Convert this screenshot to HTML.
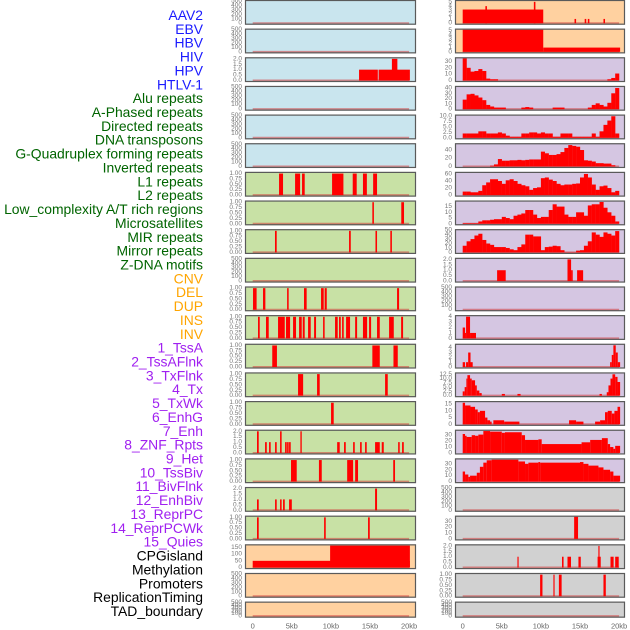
<!DOCTYPE html>
<html><head><meta charset="utf-8"><style>
html,body{margin:0;padding:0;background:#fff;}
svg{display:block;font-family:"Liberation Sans",sans-serif;}
</style></head><body>
<svg id="chart" width="630" height="630" viewBox="0 0 630 630" xmlns="http://www.w3.org/2000/svg">
<g id="labels"></g>
<g id="panels"></g>
<g id="xaxis"></g>
</svg>
<script>
const trackLabels = ["AAV2","EBV","HBV","HIV","HPV","HTLV-1","Alu repeats","A-Phased repeats","Directed repeats","DNA transposons","G-Quadruplex forming repeats","Inverted repeats","L1 repeats","L2 repeats","Low_complexity A/T rich regions","Microsatellites","MIR repeats","Mirror repeats","Z-DNA motifs","CNV","DEL","DUP","INS","INV","1_TssA","2_TssAFlnk","3_TxFlnk","4_Tx","5_TxWk","6_EnhG","7_Enh","8_ZNF_Rpts","9_Het","10_TssBiv","11_BivFlnk","12_EnhBiv","13_ReprPC","14_ReprPCWk","15_Quies","CPGisland","Methylation","Promoters","ReplicationTiming","TAD_boundary"];
const labelColors = ["#1a1aff","#1a1aff","#1a1aff","#1a1aff","#1a1aff","#1a1aff","#006400","#006400","#006400","#006400","#006400","#006400","#006400","#006400","#006400","#006400","#006400","#006400","#006400","#ffa500","#ffa500","#ffa500","#ffa500","#ffa500","#a020f0","#a020f0","#a020f0","#a020f0","#a020f0","#a020f0","#a020f0","#a020f0","#a020f0","#a020f0","#a020f0","#a020f0","#a020f0","#a020f0","#a020f0","#000","#000","#000","#000","#000"];
const xTickValues = [0,5,10,15,20];
const xTickLabels = ["0","5kb","10kb","15kb","20kb"];

const leftHpvBars = [[13.6,16.0,1],[16.1,20.1,1],[17.8,18.5,2]];
const leftL1Bars = [[3.37,3.88,1],[5.42,6.06,1],[6.31,6.65,1],[10.15,11.6,1],[12.79,13.3,1],[14.1,14.6,1],[15.4,15.9,1]];
const leftL2Bars = [[15.3,15.5,1],[19.0,19.35,1]];
const leftLowCxBars = [[2.85,3.07,1],[12.32,12.54,1],[15.7,15.9,1],[17.6,17.8,1]];
const leftMirBars = [[0.04,0.5,1],[1.32,1.62,1],[4.4,4.6,1],[6.56,6.9,1],[8.74,9.08,1],[9.2,9.47,1],[18.46,18.72,1]];
const leftMirrorBars = [[0.68,0.9,1],[1.7,2.05,1],[3.24,4.1,1],[4.26,4.78,1],[5.16,5.54,1],[5.93,6.27,1],[6.4,6.65,1],[7.08,7.42,1],[7.85,8.1,1],[9.0,9.2,1],[10.53,10.87,1],[11.04,11.26,1],[11.43,11.64,1],[11.94,12.45,1],[13.1,13.35,1],[14.1,14.63,1],[14.88,15.14,1],[15.9,16.25,1],[17.44,18.04,1],[18.98,19.23,1]];
const leftZdnaBars = [[2.5,3.1,1],[15.3,16.25,1],[18.0,18.55,1]];
const leftCnvBars = [[5.8,6.45,1],[8.23,8.57,1],[16.93,17.27,1]];
const leftDelBars = [[10.02,10.36,1]];
const leftDupBars = [[0.55,0.77,2],[1.58,1.8,1],[2.09,2.3,1],[2.86,3.07,1],[3.5,3.7,2],[4.14,4.35,1],[4.4,4.6,1],[4.65,4.86,1],[6.1,6.27,2],[10.8,11.13,1],[11.68,11.9,1],[12.84,13.05,1],[13.73,13.94,1],[14.37,14.58,1],[15.65,16.25,1],[16.5,16.76,1],[18.6,18.8,1],[19.1,19.32,1]];
const leftInsBars = [[4.9,5.63,1],[8.47,8.83,1],[12.08,12.84,1],[13.1,13.47,1],[17.97,18.2,1]];
const leftInvBars = [[0.55,0.77,1],[2.86,3.07,1],[3.5,3.7,1],[3.88,4.1,1],[4.65,5.0,1],[15.65,15.9,2]];
const leftTssaBars = [[0.55,0.77,1],[9.13,9.34,1],[14.75,14.97,1]];
const leftCpgBars = [[0,20.1,50],[9.9,20.1,163]];

const rightHpvBins = [35,20,14,15,18,15,3,2,2,0,0,0,0,0,0,0,0,0,0,0,0,0,0,0,0,0,0,0,0,0,0,0,0,0,0,0,0,2,4,11];
const rightAluBins = [18,28,29,26,22,17,8,5,3,3,3,0,0,0,0,3,4,3,0,0,0,0,0,3,3,3,0,0,0,0,0,0,3,8,11,8,5,12,30,40];
const rightAphasedBins = [2,2,2,2,3,3,2,2,2,2.5,2,1,0.5,0.5,0.5,2,2,2.5,2.5,2,2.5,2,2,0.5,0.5,2,2,2,0.5,0.5,0.5,0.5,0.5,2,0.5,3,6,8,10,2];
const rightGquadBins = [0,0,0,0,0,0,0,2,5,18,14,14,15,15,16,15,16,17,17,17,36,32,28,28,30,35,45,52,50,48,40,15,14,12,8,8,7,7,3,0];
const rightInvertedBins = [10,10,8,8,12,28,36,45,45,40,32,42,45,40,32,28,25,15,20,22,48,50,44,40,32,28,30,30,32,33,50,60,50,30,15,25,27,20,8,12];
const rightL1Bins = [0.5,0.5,0.5,0.5,2,3,3,3.5,4,4,6,5,4,7,8,9,12,12,8,5,6,6,12,17,15,15,8,6,6,10,10,7,16,17,17,19,14,10,7,2];
const rightLowCxBins = [15,25,30,38,42,28,20,17,12,12,12,10,7,5,12,18,40,40,36,36,5,12,13,15,14,5,0.5,0.5,0.5,4,5,15,25,45,40,35,45,42,38,48];
const rightAav2Bars = [[0,10.3,3.2],[2.9,3.1,4],[9.1,9.3,5],[14.3,14.5,1],[15.6,15.8,1],[16.0,16.2,1],[18.0,18.2,1]];
const rightEbvBars = [[0,10.3,5.2],[10.3,20.13,1]];
const rightZdnaBars = [[4.4,5.5,1],[13.4,13.86,2],[13.86,14.07,1],[14.63,15.4,1]];
const rightDupBars = [[0,0.3,2],[0.3,0.43,1],[0.43,0.94,4],[0.94,1.7,1]];
const rightInsBars = [[0,0.3,1],[0.43,0.7,1],[0.7,1.0,3],[1.0,1.28,1],[18.85,19.06,1],[19.06,19.27,2.5],[19.27,19.57,4.5],[19.57,19.83,3],[19.83,20.13,1]];
const rightInvSteps = [[0,0.25,2.5],[0.25,0.47,5],[0.47,0.6,10],[0.6,0.94,12],[0.94,1.15,10],[1.15,1.58,9],[1.58,1.8,6],[1.8,2.13,3],[2.13,2.43,1.5],[5.0,5.4,1],[7.0,7.4,1],[17.5,17.8,1],[18.42,18.64,2],[18.64,18.9,6],[18.9,19.15,10],[19.15,19.5,12.5],[19.5,19.8,11],[19.8,20.13,8]];
const rightTssaSteps = [[0,0.3,16],[0.3,1.0,14],[1.0,1.58,13],[1.58,1.92,11],[1.92,2.2,9],[2.2,2.86,10],[2.86,3.16,5],[3.16,3.5,3],[3.5,3.7,2],[3.92,5.3,3],[5.3,7.25,2],[13.6,14.5,3],[14.5,15.44,2],[16.93,17.57,2],[17.57,18.2,3],[18.2,18.55,9],[18.55,19.06,10],[19.06,19.4,8],[19.4,19.8,10],[19.8,20.13,13]];
const rightTssaflnkSteps = [[0,0.3,32],[0.3,0.5,29],[0.5,1.15,27],[1.15,1.58,30],[1.58,2.0,29],[2.0,2.64,31],[2.64,3.5,37],[3.5,5.0,36],[5.0,5.4,34],[5.4,7.55,35],[7.55,7.97,30],[7.97,9.68,22],[9.68,10.1,23],[10.1,15.2,15],[15.2,16.3,18],[16.3,17.8,22],[17.8,18.55,25],[18.55,18.85,15],[18.85,19.27,10],[19.27,19.5,7],[19.5,20.13,12]];
const rightTxflnkSteps = [[0,0.3,17],[0.3,0.72,12],[0.72,0.94,8],[0.94,1.8,10],[1.8,2.2,15],[2.2,2.64,25],[2.64,3.07,32],[3.07,3.7,36],[3.7,7.12,37],[7.12,7.97,34],[7.97,8.4,30],[8.4,9.68,32],[9.68,9.9,33],[9.9,15.0,32],[15.0,15.44,33],[15.44,16.08,30],[16.08,17.36,27],[17.36,18.0,24],[18.0,18.85,20],[18.85,19.27,17],[19.27,20.13,10]];
const rightTxBars = [[14.25,14.75,38]];
const rightTxwkBars = [[7.0,7.15,1],[12.7,12.9,1],[13.4,13.85,1],[14.8,15.1,1],[17.25,17.65,1],[17.35,17.5,2],[18.9,19.3,1],[19.5,19.95,1]];
const rightEnhgBars = [[9.9,10.2,1],[11.6,11.75,1],[12.3,12.65,1],[18.0,18.3,1]];

const BLUE="#c9e5ee", GREEN="#c8e1a5", ORANGE="#ffd1a0", PURPLE="#d5c6e2", GRAY="#d1d1d1";
const T500=[0,100,200,300,400,500], T1=[0,0.25,0.5,0.75,1], T2=[0,0.5,1,1.5,2];
function f2(v){return v.toFixed(2);} function f1(v){return v.toFixed(1);} function f0(v){return String(v);}

const panels = [
 {c:0,r:0,bg:BLUE,ymax:500,ticks:T500,fmt:f0,bars:[]},
 {c:0,r:1,bg:BLUE,ymax:500,ticks:T500,fmt:f0,bars:[]},
 {c:0,r:2,bg:BLUE,ymax:2.05,ticks:T2,fmt:f1,bars:leftHpvBars},
 {c:0,r:3,bg:BLUE,ymax:500,ticks:T500,fmt:f0,bars:[]},
 {c:0,r:4,bg:BLUE,ymax:500,ticks:T500,fmt:f0,bars:[]},
 {c:0,r:5,bg:BLUE,ymax:500,ticks:T500,fmt:f0,bars:[]},
 {c:0,r:6,bg:GREEN,ymax:1.03,ticks:T1,fmt:f2,bars:leftL1Bars},
 {c:0,r:7,bg:GREEN,ymax:1.03,ticks:T1,fmt:f2,bars:leftL2Bars},
 {c:0,r:8,bg:GREEN,ymax:1.03,ticks:T1,fmt:f2,bars:leftLowCxBars},
 {c:0,r:9,bg:GREEN,ymax:500,ticks:T500,fmt:f0,bars:[]},
 {c:0,r:10,bg:GREEN,ymax:1.03,ticks:T1,fmt:f2,bars:leftMirBars},
 {c:0,r:11,bg:GREEN,ymax:1.03,ticks:T1,fmt:f2,bars:leftMirrorBars},
 {c:0,r:12,bg:GREEN,ymax:1.03,ticks:T1,fmt:f2,bars:leftZdnaBars},
 {c:0,r:13,bg:GREEN,ymax:1.03,ticks:T1,fmt:f2,bars:leftCnvBars},
 {c:0,r:14,bg:GREEN,ymax:1.03,ticks:T1,fmt:f2,bars:leftDelBars},
 {c:0,r:15,bg:GREEN,ymax:2.05,ticks:T2,fmt:f1,bars:leftDupBars},
 {c:0,r:16,bg:GREEN,ymax:1.03,ticks:T1,fmt:f2,bars:leftInsBars},
 {c:0,r:17,bg:GREEN,ymax:2.05,ticks:T2,fmt:f1,bars:leftInvBars},
 {c:0,r:18,bg:GREEN,ymax:1.03,ticks:T1,fmt:f2,bars:leftTssaBars},
 {c:0,r:19,bg:ORANGE,ymax:165,ticks:[0,50,100,150],fmt:f0,bars:leftCpgBars},
 {c:0,r:20,bg:ORANGE,ymax:500,ticks:T500,fmt:f0,bars:[]},
 {c:0,r:21,bg:ORANGE,ymax:500,ticks:T500,fmt:f0,bars:[],short:true},
 {c:1,r:0,bg:ORANGE,ymax:5.2,ticks:[0,1,2,3,4,5],fmt:f0,bars:rightAav2Bars},
 {c:1,r:1,bg:ORANGE,ymax:5.2,ticks:[0,1,2,3,4,5],fmt:f0,bars:rightEbvBars},
 {c:1,r:2,bg:PURPLE,ymax:35,ticks:[0,10,20,30],fmt:f0,bins:rightHpvBins},
 {c:1,r:3,bg:PURPLE,ymax:42,ticks:[0,10,20,30,40],fmt:f0,bins:rightAluBins},
 {c:1,r:4,bg:PURPLE,ymax:10.3,ticks:[0,2.5,5,7.5,10],fmt:f1,bins:rightAphasedBins},
 {c:1,r:5,bg:PURPLE,ymax:54,ticks:[0,20,40],fmt:f0,bins:rightGquadBins},
 {c:1,r:6,bg:PURPLE,ymax:63,ticks:[0,20,40,60],fmt:f0,bins:rightInvertedBins},
 {c:1,r:7,bg:PURPLE,ymax:19.4,ticks:[0,5,10,15],fmt:f0,bins:rightL1Bins},
 {c:1,r:8,bg:PURPLE,ymax:50,ticks:[0,10,20,30,40,50],fmt:f0,bins:rightLowCxBins},
 {c:1,r:9,bg:PURPLE,ymax:2.05,ticks:T2,fmt:f1,bars:rightZdnaBars},
 {c:1,r:10,bg:PURPLE,ymax:500,ticks:T500,fmt:f0,bars:[]},
 {c:1,r:11,bg:PURPLE,ymax:4.1,ticks:[0,1,2,3,4],fmt:f0,bars:rightDupBars},
 {c:1,r:12,bg:PURPLE,ymax:4.6,ticks:[0,1,2,3,4],fmt:f0,bars:rightInsBars},
 {c:1,r:13,bg:PURPLE,ymax:13,ticks:[0,2.5,5,7.5,10,12.5],fmt:f1,bars:rightInvSteps},
 {c:1,r:14,bg:PURPLE,ymax:16.5,ticks:[0,5,10,15],fmt:f0,bars:rightTssaSteps},
 {c:1,r:15,bg:PURPLE,ymax:37.5,ticks:[0,10,20,30],fmt:f0,bars:rightTssaflnkSteps},
 {c:1,r:16,bg:PURPLE,ymax:37.5,ticks:[0,10,20,30],fmt:f0,bars:rightTxflnkSteps},
 {c:1,r:17,bg:GRAY,ymax:500,ticks:T500,fmt:f0,bars:[]},
 {c:1,r:18,bg:GRAY,ymax:38,ticks:[0,10,20,30],fmt:f0,bars:rightTxBars},
 {c:1,r:19,bg:GRAY,ymax:2.05,ticks:T2,fmt:f1,bars:rightTxwkBars},
 {c:1,r:20,bg:GRAY,ymax:1.03,ticks:T1,fmt:f2,bars:rightEnhgBars},
 {c:1,r:21,bg:GRAY,ymax:500,ticks:T500,fmt:f0,bars:[],short:true}
];

const NS="http://www.w3.org/2000/svg";
function mk(tag, attrs, parent){const e=document.createElementNS(NS,tag);for(const k in attrs)e.setAttribute(k,attrs[k]);parent.appendChild(e);return e;}
const colLeft=[245,455], colW=[171,170], x0=[252.7,462.7], PXKB=7.82;
function xScale(c,kb){return x0[c]+kb*PXKB;}

const lg=document.getElementById('labels');
trackLabels.forEach((t,i)=>{
  const e=mk('text',{x:203,y:15+i*13.86,'text-anchor':'end','dominant-baseline':'central','font-size':'13.9',fill:labelColors[i]},lg);
  
  
  e.textContent=t;
});

const pg=document.getElementById('panels');
panels.forEach(p=>{
  const top=p.r*28.65, h=p.short?16:24.7, left=colLeft[p.c], w=colW[p.c];
  const g=mk('g',{},pg);
  
  
  const bg=mk('rect',{x:left,y:top,width:w,height:h,fill:p.bg},g);
  
  
  const base=top+h-1.5, span=h-2.5;
  const yScale=v=>base-(v/p.ymax)*span;
  const bl=mk('line',{x1:xScale(p.c,0),x2:xScale(p.c,20),y1:base,y2:base,stroke:'rgba(210,60,60,0.55)','stroke-width':2},g);
  
  
  const drawBar=(s,e,v)=>{
    if(v<=0)return;
    const r=mk('rect',{x:xScale(p.c,s),y:yScale(v),width:Math.max(0.8,xScale(p.c,e)-xScale(p.c,s)),height:base-yScale(v),fill:'#ff0000'},g);
    
    
  };
  if(p.bars)p.bars.forEach(b=>drawBar(b[0],b[1],b[2]));
  if(p.bins)p.bins.forEach((v,i)=>drawBar(i*0.5,(i+1)*0.5+0.02,v));
  const fr=mk('rect',{x:left+0.5,y:top+0.5,width:w-1,height:h-1,fill:'none',stroke:'#5a5a5a','stroke-width':1.2},g);
  
  
  p.ticks.forEach(t=>{
    const tx=mk('text',{x:left-3,y:yScale(t),'text-anchor':'end','dominant-baseline':'central','font-size':'6.5',fill:'#777'},g);
    
    
    tx.textContent=p.fmt(t);
  });
});

const xg=document.getElementById('xaxis');
[0,1].forEach(c=>{
  xTickValues.forEach((v,i)=>{
    const tx=mk('text',{x:xScale(c,v),y:626,'text-anchor':'middle','dominant-baseline':'central','font-size':'7.5',fill:'#666'},xg);
    
    
    tx.textContent=xTickLabels[i];
  });
});
</script>
</body></html>
